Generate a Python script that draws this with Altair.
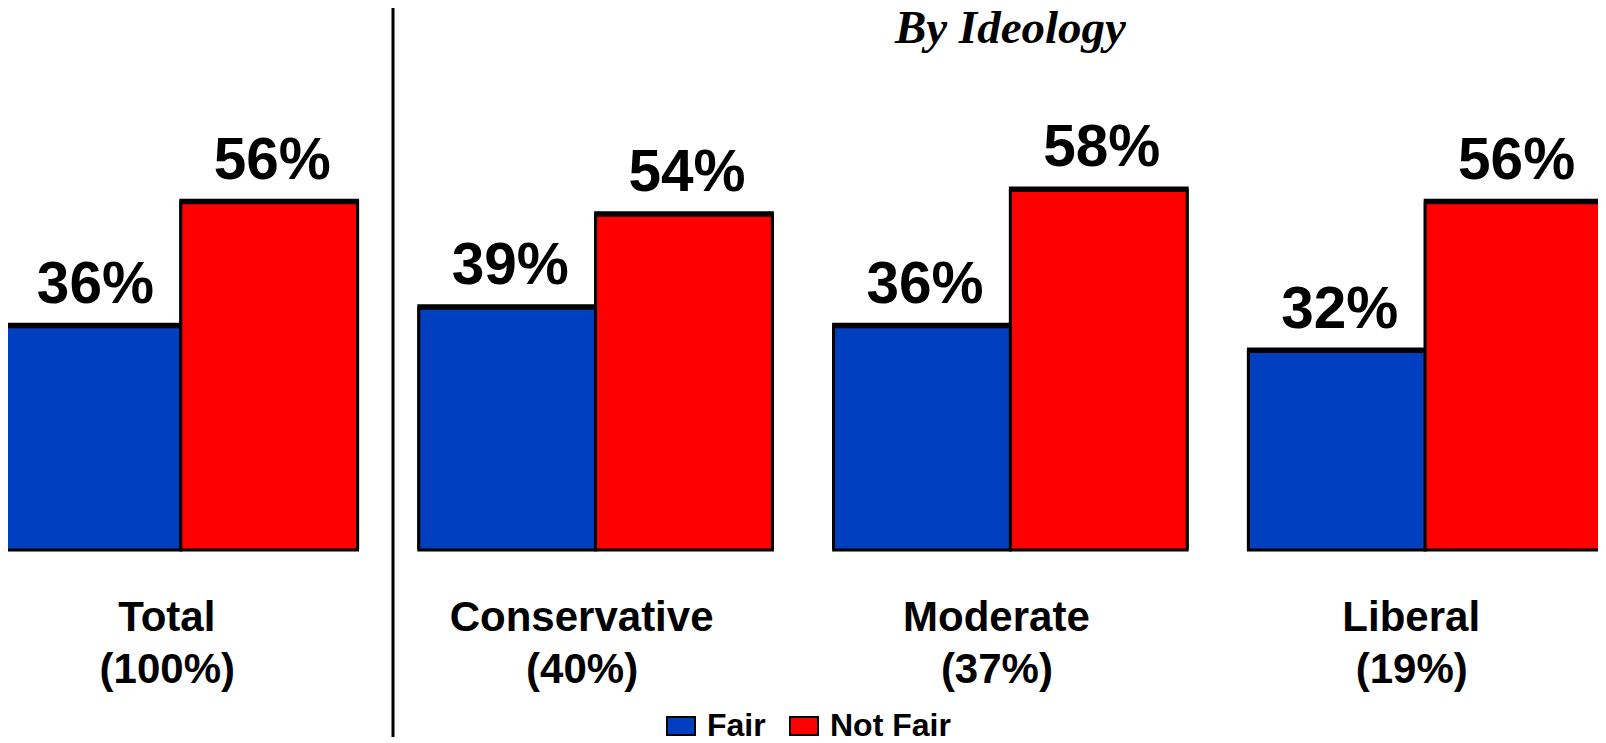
import altair as alt
import pandas as pd

groups = ["Total", "Conservative", "Moderate", "Liberal"]
shares = ["(100%)", "(40%)", "(37%)", "(19%)"]
series = ["Fair", "Not Fair"]
fair = [36, 39, 36, 32]
not_fair = [56, 54, 58, 56]
colors = ["#0040C0", "#FF0000"]
panel_title = "By Ideology"
title_group = "Moderate"

rows = []
for g, f, n in zip(groups, fair, not_fair):
    rows.append({"group": g, "series": series[0], "value": f, "label": f"{f}%"})
    rows.append({"group": g, "series": series[1], "value": n, "label": f"{n}%"})
df = pd.DataFrame(rows)
cats = pd.DataFrame({"group": groups, "share": shares})
tdf = pd.DataFrame({"group": [title_group], "title": [panel_title]})

FONT = "Liberation Sans"

x = alt.X("group:N", sort=groups, axis=None,
          scale=alt.Scale(range=[-4, 1594], paddingInner=0.1476, paddingOuter=0))
xo = alt.XOffset("series:N", sort=series, scale=alt.Scale(paddingInner=0, paddingOuter=0))
y = alt.Y("value:Q", axis=None, scale=alt.Scale(domain=[0, 86.45], nice=False, zero=True))

color = alt.Color(
    "series:N", sort=series,
    scale=alt.Scale(domain=series, range=colors),
    legend=alt.Legend(
        title=None, orient="none", legendX=657, legendY=696, direction="horizontal",
        symbolType="M-1,-0.64H1V0.64H-1Z", symbolSize=784,
        symbolStrokeColor="black", symbolStrokeWidth=2, symbolOpacity=1,
        labelFont=FONT, labelFontSize=32, labelFontWeight="bold", labelColor="black",
        labelOffset=10, columnPadding=20, padding=0, symbolOffset=0,
    ),
)

shadow = alt.Chart(df).mark_bar(
    color="black", stroke="black", strokeWidth=3, yOffset=-2.5, xOffset=1.5
).encode(x=x, xOffset=xo, y=y)

bars = alt.Chart(df).mark_bar(stroke="black", strokeWidth=3).encode(
    x=x, xOffset=xo, y=y, color=color
)
labels = alt.Chart(df).mark_text(
    font=FONT, fontSize=58.5, fontWeight="bold", baseline="alphabetic",
    dy=-24, dx=3, color="black"
).encode(x=x, xOffset=xo, y=y, text="label:N")

cat1 = alt.Chart(cats).mark_text(
    font=FONT, fontSize=42, fontWeight="bold", baseline="alphabetic", color="black", dx=-14
).encode(x=x, y=alt.value(617), text="group:N")
cat2 = alt.Chart(cats).mark_text(
    font=FONT, fontSize=42, fontWeight="bold", baseline="alphabetic", color="black", dx=-13.5
).encode(x=x, y=alt.value(669), text="share:N")

title = alt.Chart(tdf).mark_text(
    font="Liberation Serif", fontSize=47, fontWeight="bold", fontStyle="italic",
    baseline="alphabetic", color="black"
).encode(x=x, y=alt.value(29), text="title:N")

rule = alt.Chart(tdf).mark_rule(color="black", strokeWidth=3).encode(
    x=alt.value(385), y=alt.value(-12), y2=alt.value(723)
)

chart = alt.layer(shadow, bars, labels, cat1, cat2, title, rule).properties(
    width=1590, height=536,
    padding={"left": 0, "top": 6, "right": 0, "bottom": 198},
    autosize=alt.AutoSizeParams(type="none"),
).configure_view(stroke=None)

chart.save("out.html", embed_options={"renderer": "svg", "actions": False})
